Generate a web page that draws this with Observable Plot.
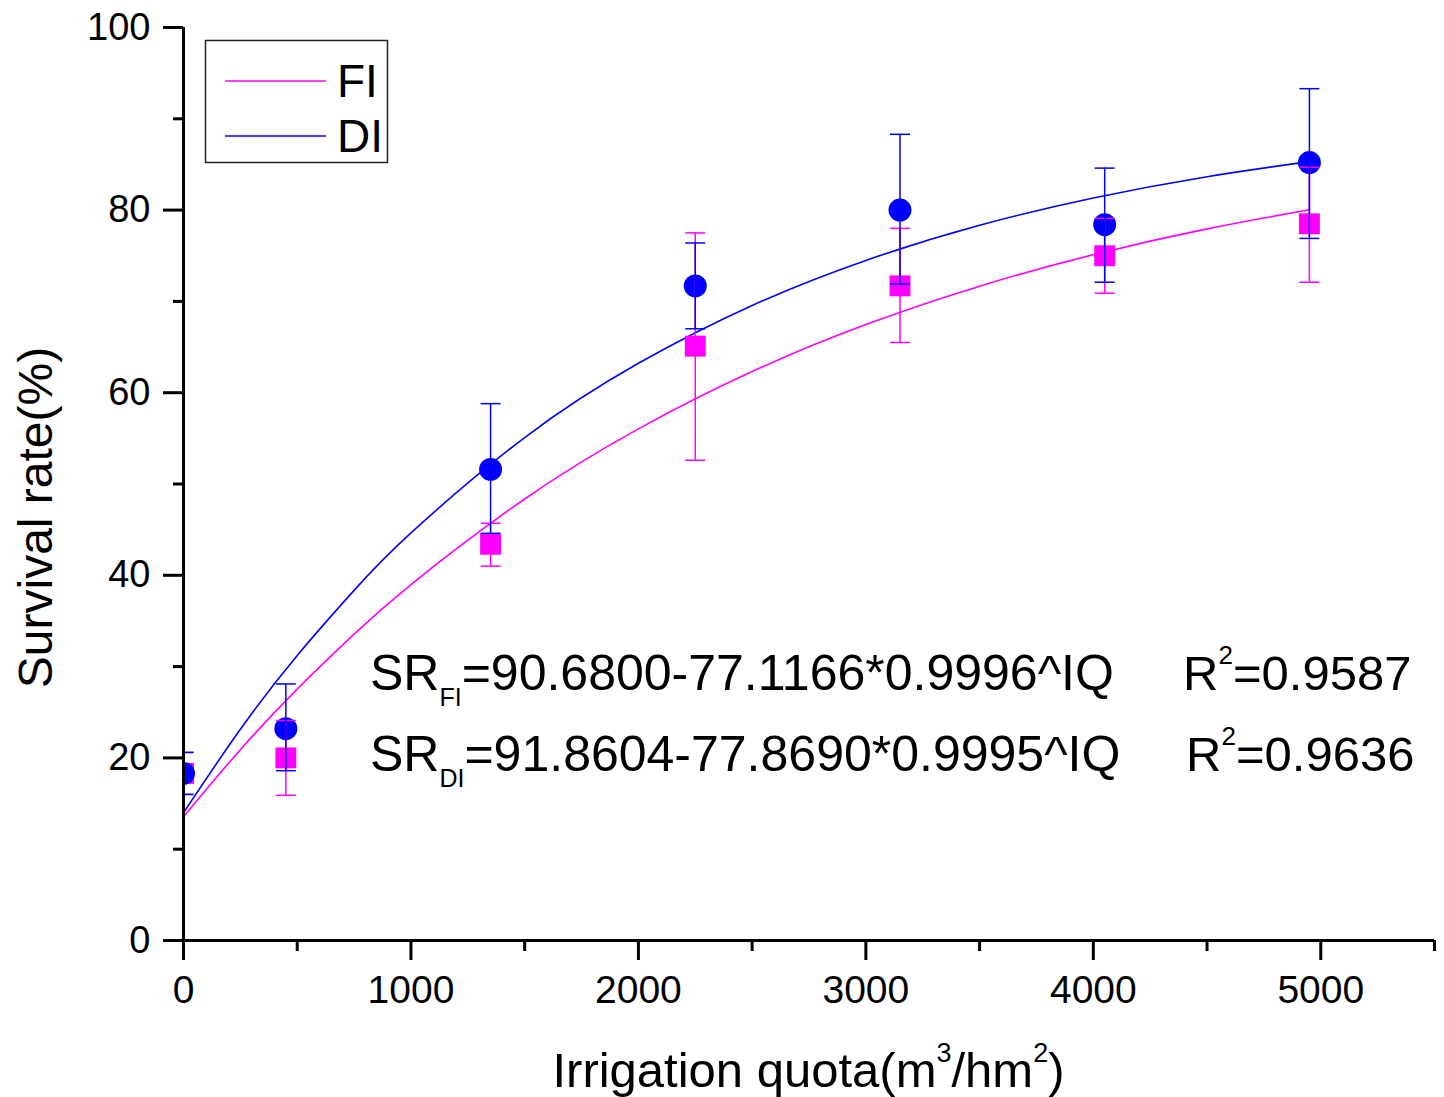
<!DOCTYPE html>
<html>
<head>
<meta charset="utf-8">
<script src="https://cdn.jsdelivr.net/npm/d3@7"></script>
<script src="https://cdn.jsdelivr.net/npm/@observablehq/plot@0.6"></script>
<style>
  body { margin: 0; background: #fff; }
</style>
</head>
<body>
<div id="chart"></div>
<script>
// ---- data ----
const IQ       = [0, 450, 1350, 2250, 3150, 4050, 4950];
const FI_mean  = [18.3, 20.0, 43.4, 65.1, 71.7, 75.0, 78.5];
const FI_low   = [16.0, 15.9, 41.0, 52.6, 65.5, 70.9, 72.1];
const FI_high  = [20.6, 24.1, 45.7, 77.5, 78.0, 79.1, 84.7];
const DI_mean  = [18.3, 23.2, 51.6, 71.7, 80.0, 78.4, 85.2];
const DI_low   = [16.0, 18.6, 44.6, 67.0, 71.9, 72.1, 76.9];
const DI_high  = [20.6, 28.1, 58.8, 76.4, 88.3, 84.6, 93.3];

// fitted curves (values along the drawn fit lines)
const fitX  = [0, 250, 500, 750, 1000, 1500, 2000, 2500, 3000, 3500, 4000, 4500, 4950];
const fitFI = [13.56, 20.90, 27.54, 33.55, 38.99, 48.36, 56.04, 62.32, 67.46, 71.67, 75.12, 77.94, 80.04];
const fitDI = [13.99, 23.14, 31.22, 38.35, 44.64, 55.09, 63.22, 69.56, 74.49, 78.34, 81.33, 83.66, 85.31];

// ticks
const xMajor = [0, 1000, 2000, 3000, 4000, 5000];
const xMinor = [500, 1500, 2500, 3500, 4500, 5500];
const yMajor = [0, 20, 40, 60, 80, 100];
const yMinor = [10, 30, 50, 70, 90];

// texts
const seriesNames = ["FI", "DI"];
const seriesColors = ["#ff00ff", "#0000ff"];
const eqMain = ["=90.6800-77.1166*0.9996^IQ", "=91.8604-77.8690*0.9995^IQ"];
const eqR2 = ["=0.9587", "=0.9636"];
const eqPosX = [822, 822];
const eqPosY = [27.4, 18.5];
const r2PosX = [4397, 4410];
const xTitle = ["Irrigation quota(m", "3", "/hm", "2", ")"];
const yTitle = "Survival rate(%)";

const pts = IQ.map((x, i) => ({
  x, fi: FI_mean[i], fiLo: FI_low[i], fiHi: FI_high[i],
  di: DI_mean[i], diLo: DI_low[i], diHi: DI_high[i]
}));
const fit = fitX.map((x, i) => ({x, fi: fitFI[i], di: fitDI[i]}));

const hbar = {draw(ctx, size) { const r = Math.sqrt(size / Math.PI); ctx.moveTo(-r, 0); ctx.lineTo(r, 0); }};

const W = 1444, H = 1097;
const mL = 183, mR = 10, mT = 27, mB = 157;
const FONT = "'Liberation Sans', Arial, sans-serif";
const fmt = d => String(d);

const plot = Plot.plot({
  width: W, height: H,
  marginLeft: mL, marginRight: mR, marginTop: mT, marginBottom: mB,
  style: {fontFamily: FONT, fontSize: "38px", background: "#fff", color: "#000", overflow: "visible"},
  x: {domain: [0, 5500], label: null},
  y: {domain: [0, 100], label: null},
  marks: [
    Plot.line(fit, {x: "x", y: "fi", stroke: seriesColors[0], strokeWidth: 1.6, curve: "natural"}),
    Plot.line(fit, {x: "x", y: "di", stroke: seriesColors[1], strokeWidth: 1.6, curve: "natural"}),
    Plot.dot(pts, {x: "x", y: "fi", symbol: "square", r: 11.8, fill: seriesColors[0], stroke: null, clip: true}),
    Plot.dot(pts, {x: "x", y: "di", symbol: "circle", r: 11.5, fill: seriesColors[1], stroke: null, clip: true}),
    Plot.ruleX(pts, {x: "x", y1: "fiLo", y2: "fiHi", stroke: seriesColors[0], strokeWidth: 1.5, clip: true}),
    Plot.dot(pts, {x: "x", y: "fiLo", symbol: hbar, r: 10, fill: "none", stroke: seriesColors[0], strokeWidth: 1.5, clip: true}),
    Plot.dot(pts, {x: "x", y: "fiHi", symbol: hbar, r: 10, fill: "none", stroke: seriesColors[0], strokeWidth: 1.5, clip: true}),
    Plot.ruleX(pts, {x: "x", y1: "diLo", y2: "diHi", stroke: seriesColors[1], strokeWidth: 1.5, clip: true}),
    Plot.dot(pts, {x: "x", y: "diLo", symbol: hbar, r: 10, fill: "none", stroke: seriesColors[1], strokeWidth: 1.5, clip: true}),
    Plot.dot(pts, {x: "x", y: "diHi", symbol: hbar, r: 10, fill: "none", stroke: seriesColors[1], strokeWidth: 1.5, clip: true}),
    Plot.axisY(yMajor, {tickSize: 20, tickPadding: 13, strokeWidth: 3, fontSize: 38, tickFormat: fmt, label: null}),
    Plot.axisY(yMinor, {tickSize: 10, strokeWidth: 3, tickFormat: () => "", label: null}),
    Plot.axisX(xMajor, {tickSize: 20, tickPadding: 15, strokeWidth: 3, fontSize: 39, tickFormat: fmt, label: null}),
    Plot.axisX(xMinor, {tickSize: 11, strokeWidth: 3, tickFormat: () => "", label: null}),
    Plot.ruleX([0], {y1: 0, y2: 100, strokeWidth: 3, stroke: "#000"}),
    Plot.ruleY([0], {x1: 0, x2: 5500, strokeWidth: 3, stroke: "#000"})
  ]
});

document.getElementById("chart").appendChild(plot);

const svg = d3.select(plot);
const sx = plot.scale("x"), sy = plot.scale("y");

// equations
for (let i = 0; i < 2; i++) {
  const t = svg.append("text")
    .attr("x", sx.apply(eqPosX[i])).attr("y", sy.apply(eqPosY[i]))
    .attr("text-anchor", "start")
    .attr("font-family", FONT).attr("font-size", 50).attr("fill", "#000");
  t.append("tspan").text("SR");
  t.append("tspan").attr("font-size", 25).attr("dy", 16).text(seriesNames[i]);
  t.append("tspan").attr("dy", -16).text(eqMain[i]);

  const r = svg.append("text")
    .attr("x", sx.apply(r2PosX[i])).attr("y", sy.apply(eqPosY[i]))
    .attr("text-anchor", "start")
    .attr("font-family", FONT).attr("font-size", 49).attr("fill", "#000");
  r.append("tspan").text("R");
  r.append("tspan").attr("font-size", 26).attr("dy", -26).text("2");
  r.append("tspan").attr("dy", 26).text(eqR2[i]);
}

// axis titles
const cx = (mL + (W - mR)) / 2;
const xt = svg.append("text")
  .attr("x", cx).attr("y", 1087).attr("text-anchor", "middle")
  .attr("font-family", FONT).attr("font-size", 49).attr("fill", "#000");
xt.append("tspan").text(xTitle[0]);
xt.append("tspan").attr("font-size", 27).attr("dy", -25).text(xTitle[1]);
xt.append("tspan").attr("dy", 25).text(xTitle[2]);
xt.append("tspan").attr("font-size", 27).attr("dy", -25).text(xTitle[3]);
xt.append("tspan").attr("dy", 25).text(xTitle[4]);

const cy = (mT + (H - mB)) / 2;
svg.append("text")
  .attr("transform", `translate(52,${cy + 34}) rotate(-90)`)
  .attr("text-anchor", "middle")
  .attr("font-family", FONT).attr("font-size", 48).attr("fill", "#000")
  .text(yTitle);

// legend
const lg = svg.append("g");
lg.append("rect").attr("x", 205.5).attr("y", 40.5).attr("width", 182).attr("height", 122)
  .attr("fill", "#fff").attr("stroke", "#222").attr("stroke-width", 1.5);
const legY = [81, 136];
seriesNames.forEach((n, i) => {
  lg.append("line").attr("x1", 225).attr("x2", 326).attr("y1", legY[i]).attr("y2", legY[i])
    .attr("stroke", seriesColors[i]).attr("stroke-width", 1.6);
  lg.append("text").attr("x", 337).attr("y", legY[i] + 16)
    .attr("text-anchor", "start")
    .attr("font-family", FONT).attr("font-size", 46).attr("fill", "#000").text(n);
});
</script>
</body>
</html>
